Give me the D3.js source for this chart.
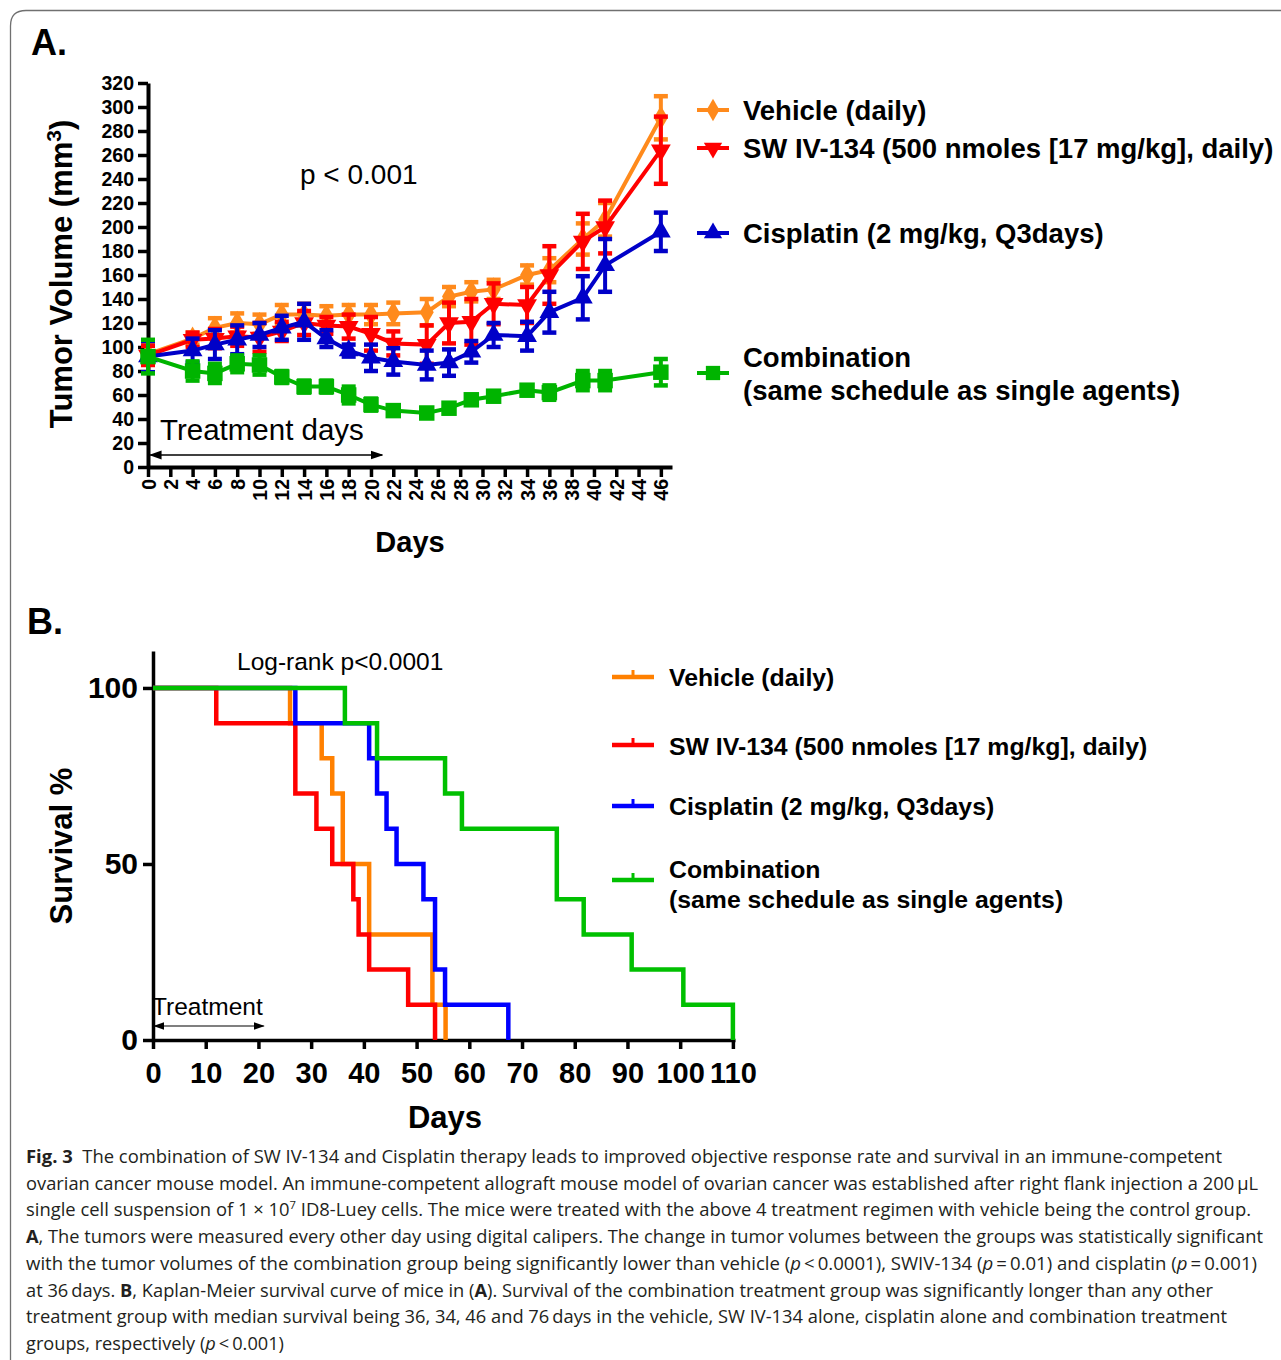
<!DOCTYPE html>
<html>
<head>
<meta charset="utf-8">
<script src="https://cdn.jsdelivr.net/npm/d3@7"></script>
<style>
body{margin:0;background:#fff}
svg{display:block}
text{font-family:"Liberation Sans",Arial,sans-serif}
.cap{font-family:"Open Sans","Noto Sans",sans-serif;fill:#231f20;white-space:pre}
</style>
</head>
<body>
<div id="fig"></div>
<script>
// ---- panel A : tumor volume ----
var days = [0,4,6,8,10,12,14,16,18,20,22,25,27,29,31,34,36,39,41,46];
var vehicle    = [94,107,116,120,119,127,127,126,127,127,128,129,142,146,148,160,164,190,206,291];
var vehicleErr = [8,5,8,8,8,8,9,8,8,8,9,11,8,8,8,8,10,13,14,18];
var sw         = [93,106,107,109,108,113,120,118,117,111,103,102,120,121,136,135,160,188,200,264];
var swErr      = [8,6,8,8,12,8,10,7,10,14,10,16,17,19,17,15,24,23,22,28];
var cis        = [92,97,102,106,110,116,121,107,97,91,88,85,87,96,110,109,129,141,168,196];
var cisErr     = [13,10,12,12,10,10,15,7,5,11,11,12,11,9,10,12,17,18,22,16];
var combo      = [92,80,78,86,85,75,67,67,60,52,47,45,49,56,59,64,62,72,72,79];
var comboErr   = [14,8,8,7,8,5,5,5,7,5,4,4,4,4,4,4,6,8,8,11];
var yTicksA = d3.range(0, 321, 20);
var xTicksA = d3.range(0, 47, 2);

// ---- panel B : Kaplan-Meier ----
var kmVehicle = [[0,100],[26,90],[32,80],[34,70],[36,50],[41,30],[53,10],[55.5,0]];
var kmSw      = [[0,100],[12,90],[27,70],[31,60],[34,50],[38,40],[39,30],[41,20],[48.4,10],[53.5,0]];
var kmCis     = [[0,100],[27,90],[41,80],[42.5,70],[44.3,60],[46.2,50],[51.3,40],[53.5,20],[55.4,10],[67.4,0]];
var kmCombo   = [[0,100],[36.4,90],[42.5,80],[55.4,70],[58.6,60],[76.6,40],[81.7,30],[90.8,20],[100.6,10],[110,0]];
var yTicksB = [0, 50, 100];
var xTicksB = d3.range(0, 111, 10);

var labelsA = ["Vehicle (daily)", "SW IV-134 (500 nmoles [17 mg/kg], daily)", "Cisplatin (2 mg/kg, Q3days)", "Combination", "(same schedule as single agents)"];

var W = 1281, H = 1360;
var svg = d3.select("#fig").append("svg").attr("width", W).attr("height", H);

// frame
svg.append("path")
  .attr("d", "M10.5," + H + " V26 Q10.5,10.5 26,10.5 H" + W)
  .attr("fill", "none").attr("stroke", "#707070").attr("stroke-width", 1.3);

// ================= PANEL A =================
svg.append("text").attr("x", 31).attr("y", 55).style("font-size", "36px").style("font-weight", "bold").text("A.");

var xA = d3.scaleLinear().domain([0, 47]).range([148, 672]);
var yA = d3.scaleLinear().domain([0, 320]).range([467, 83]);

var gA = svg.append("g");

var ay = gA.append("g").attr("transform", "translate(148,0)")
  .call(d3.axisLeft(yA).tickValues(yTicksA).tickSize(10).tickSizeOuter(0).tickPadding(4));
ay.select(".domain").attr("stroke-width", 4);
ay.selectAll(".tick line").attr("stroke-width", 3.5);
ay.selectAll(".tick text").style("font-size", "19.5px").style("font-weight", "bold").attr("fill", "#000");

var ax = gA.append("g").attr("transform", "translate(0,467)")
  .call(d3.axisBottom(xA).tickValues(xTicksA).tickSize(10).tickSizeOuter(0));
ax.select(".domain").attr("stroke-width", 4);
ax.selectAll(".tick line").attr("stroke-width", 3.5);
ax.selectAll(".tick text")
  .attr("transform", "rotate(-90)").attr("x", -12).attr("y", 0).attr("dy", "0.36em")
  .attr("text-anchor", "end").style("font-size", "19.5px").style("font-weight", "bold").attr("fill", "#000");

svg.append("text").attr("transform", "translate(72,274) rotate(-90)").attr("text-anchor", "middle")
  .style("font-size", "31px").style("font-weight", "bold")
  .call(function(t){
    t.append("tspan").text("Tumor Volume (mm");
    t.append("tspan").attr("baseline-shift", "super").style("font-size", "21px").text("3");
    t.append("tspan").text(")");
  });
svg.append("text").attr("x", 410).attr("y", 552).attr("text-anchor", "middle")
  .style("font-size", "29px").style("font-weight", "bold").text("Days");

svg.append("text").attr("x", 300).attr("y", 184).style("font-size", "28px").text("p < 0.001");
svg.append("text").attr("x", 160).attr("y", 440).style("font-size", "29.5px").text("Treatment days");

var defs = svg.append("defs");
defs.append("marker").attr("id", "arr").attr("viewBox", "0 0 10 10").attr("refX", 9).attr("refY", 5)
  .attr("markerWidth", 9).attr("markerHeight", 9).attr("orient", "auto-start-reverse")
  .append("path").attr("d", "M0,1.5 L10,5 L0,8.5 z").attr("fill", "#000");
svg.append("line").attr("x1", xA(0.2)).attr("x2", xA(21)).attr("y1", 455).attr("y2", 455)
  .attr("stroke", "#000").attr("stroke-width", 1.4)
  .attr("marker-start", "url(#arr)").attr("marker-end", "url(#arr)");

var seriesA = [
  {v: vehicle, e: vehicleErr, c: "#ff8a1c", sym: d3.symbolDiamond, size: 170, rot: 0},
  {v: sw, e: swErr, c: "#ff0000", sym: d3.symbolTriangle, size: 170, rot: 180},
  {v: cis, e: cisErr, c: "#0000c8", sym: d3.symbolTriangle, size: 170, rot: 0},
  {v: combo, e: comboErr, c: "#00b400", sym: d3.symbolSquare, size: 240, rot: 0}
];

var lineA = d3.line().x(function(d){ return xA(d[0]); }).y(function(d){ return yA(d[1]); });

seriesA.forEach(function(s){
  var pts = days.map(function(d, i){ return [d, s.v[i], s.e[i]]; });
  var g = gA.append("g");
  g.append("path").attr("d", lineA(pts)).attr("fill", "none").attr("stroke", s.c).attr("stroke-width", 4);
  var eb = g.selectAll(".eb").data(pts).enter().append("g");
  eb.append("line").attr("x1", function(d){ return xA(d[0]); }).attr("x2", function(d){ return xA(d[0]); })
    .attr("y1", function(d){ return yA(d[1] - d[2]); }).attr("y2", function(d){ return yA(d[1] + d[2]); })
    .attr("stroke", s.c).attr("stroke-width", 4);
  [1, -1].forEach(function(k){
    eb.append("line").attr("x1", function(d){ return xA(d[0]) - 7; }).attr("x2", function(d){ return xA(d[0]) + 7; })
      .attr("y1", function(d){ return yA(d[1] + k * d[2]); }).attr("y2", function(d){ return yA(d[1] + k * d[2]); })
      .attr("stroke", s.c).attr("stroke-width", 4.5);
  });
  g.selectAll(".mk").data(pts).enter().append("path")
    .attr("d", d3.symbol().type(s.sym).size(s.size))
    .attr("transform", function(d){ return "translate(" + xA(d[0]) + "," + yA(d[1]) + ") rotate(" + s.rot + ")"; })
    .attr("fill", s.c);
});

// legend A
var legA = [
  {y: 110, s: seriesA[0], lines: [labelsA[0]], ty: [110]},
  {y: 148, s: seriesA[1], lines: [labelsA[1]], ty: [148]},
  {y: 233, s: seriesA[2], lines: [labelsA[2]], ty: [233]},
  {y: 373, s: seriesA[3], lines: [labelsA[3], labelsA[4]], ty: [357, 390]}
];
legA.forEach(function(l){
  svg.append("line").attr("x1", 697).attr("x2", 729).attr("y1", l.y).attr("y2", l.y)
    .attr("stroke", l.s.c).attr("stroke-width", 4);
  svg.append("path").attr("d", d3.symbol().type(l.s.sym).size(l.s.size * 0.85))
    .attr("transform", "translate(713," + l.y + ") rotate(" + l.s.rot + ")").attr("fill", l.s.c);
  l.lines.forEach(function(txt, i){
    svg.append("text").attr("x", 743).attr("y", l.ty[i]).attr("dy", "0.36em")
      .style("font-size", "27.5px").style("font-weight", "bold").text(txt);
  });
});

// ================= PANEL B =================
svg.append("text").attr("x", 27).attr("y", 634).style("font-size", "36px").style("font-weight", "bold").text("B.");

var xB = d3.scaleLinear().domain([0, 110.4]).range([153, 735]);
var yB = d3.scaleLinear().domain([0, 110.5]).range([1040, 651]);

var by = svg.append("g").attr("transform", "translate(153,0)")
  .call(d3.axisLeft(yB).tickValues(yTicksB).tickSize(10).tickSizeOuter(0).tickPadding(5));
by.select(".domain").attr("stroke-width", 3.5);
by.selectAll(".tick line").attr("stroke-width", 3.5);
by.selectAll(".tick text").style("font-size", "30px").style("font-weight", "bold").attr("fill", "#000");

var bx = svg.append("g").attr("transform", "translate(0,1040)")
  .call(d3.axisBottom(xB).tickValues(xTicksB).tickSize(9).tickSizeOuter(0).tickPadding(13));
bx.select(".domain").attr("stroke-width", 3.5);
bx.selectAll(".tick line").attr("stroke-width", 3.5);
bx.selectAll(".tick text").style("font-size", "29px").style("font-weight", "bold").attr("fill", "#000");

svg.append("text").attr("transform", "translate(72,846) rotate(-90)").attr("text-anchor", "middle")
  .style("font-size", "31px").style("font-weight", "bold").text("Survival %");
svg.append("text").attr("x", 445).attr("y", 1128).attr("text-anchor", "middle")
  .style("font-size", "31px").style("font-weight", "bold").text("Days");

svg.append("text").attr("x", 237).attr("y", 670).style("font-size", "24.5px").text("Log-rank p<0.0001");
svg.append("text").attr("x", 152).attr("y", 1015).style("font-size", "24.5px").text("Treatment");
svg.append("line").attr("x1", xB(0.3)).attr("x2", xB(21)).attr("y1", 1026).attr("y2", 1026)
  .attr("stroke", "#000").attr("stroke-width", 1.2)
  .attr("marker-start", "url(#arr)").attr("marker-end", "url(#arr)");

var seriesB = [
  {d: kmVehicle, c: "#ff8000", label: "Vehicle (daily)", ly: 677, ty: [677]},
  {d: kmSw, c: "#ff0000", label: "SW IV-134 (500 nmoles [17 mg/kg], daily)", ly: 745, ty: [746]},
  {d: kmCis, c: "#0000ff", label: "Cisplatin (2 mg/kg, Q3days)", ly: 806, ty: [806]},
  {d: kmCombo, c: "#00c000", label: "Combination|(same schedule as single agents)", ly: 880, ty: [869, 899]}
];
var lineB = d3.line().curve(d3.curveStepAfter)
  .x(function(d){ return xB(d[0]); }).y(function(d){ return yB(d[1]); });

seriesB.forEach(function(s){
  svg.append("path").attr("d", lineB(s.d)).attr("fill", "none").attr("stroke", s.c).attr("stroke-width", 4.5);
  svg.append("line").attr("x1", 612).attr("x2", 654).attr("y1", s.ly).attr("y2", s.ly)
    .attr("stroke", s.c).attr("stroke-width", 4.5);
  svg.append("line").attr("x1", 633).attr("x2", 633).attr("y1", s.ly - 7).attr("y2", s.ly)
    .attr("stroke", s.c).attr("stroke-width", 3);
  s.label.split("|").forEach(function(txt, i){
    svg.append("text").attr("x", 669).attr("y", s.ty[i]).attr("dy", "0.36em")
      .style("font-size", "24.8px").style("font-weight", "bold").text(txt);
  });
});

// ================= CAPTION =================
var caption = [
  [["Fig. 3", "b"], ["  The combination of SW IV-134 and Cisplatin therapy leads to improved objective response rate and survival in an immune-competent"]],
  [["ovarian cancer mouse model. An immune-competent allograft mouse model of ovarian cancer was established after right flank injection a 200\u2009\u00b5L"]],
  [["single cell suspension of 1 \u00d7 10"], ["7", "sup"], [" ID8-Luey cells. The mice were treated with the above 4 treatment regimen with vehicle being the control group."]],
  [["A", "b"], [", The tumors were measured every other day using digital calipers. The change in tumor volumes between the groups was statistically significant"]],
  [["with the tumor volumes of the combination group being significantly lower than vehicle ("], ["p", "i"], ["\u2009<\u20090.0001), SWIV-134 ("], ["p", "i"], ["\u2009=\u20090.01) and cisplatin ("], ["p", "i"], ["\u2009=\u20090.001)"]],
  [["at 36\u2009days. "], ["B", "b"], [", Kaplan-Meier survival curve of mice in ("], ["A", "b"], ["). Survival of the combination treatment group was significantly longer than any other"]],
  [["treatment group with median survival being 36, 34, 46 and 76\u2009days in the vehicle, SW IV-134 alone, cisplatin alone and combination treatment"]],
  [["groups, respectively ("], ["p", "i"], ["\u2009<\u20090.001)"]]
];
var capEnd = [1222, 1258, 1251, 1263, 1257, 1213, 1227, 284];

caption.forEach(function(segs, i){
  var t = svg.append("text").attr("class", "cap").attr("x", 26).attr("y", 1163 + i * 26.7)
    .style("font-size", "18px")
    .attr("textLength", capEnd[i] - 26).attr("lengthAdjust", "spacingAndGlyphs");
  segs.forEach(function(s){
    var sp = t.append("tspan").text(s[0]);
    if (s[1] === "b") sp.style("font-weight", "bold");
    if (s[1] === "i") sp.style("font-style", "italic");
    if (s[1] === "sup") sp.attr("baseline-shift", "super").style("font-size", "11px");
  });
});
</script>
</body>
</html>
